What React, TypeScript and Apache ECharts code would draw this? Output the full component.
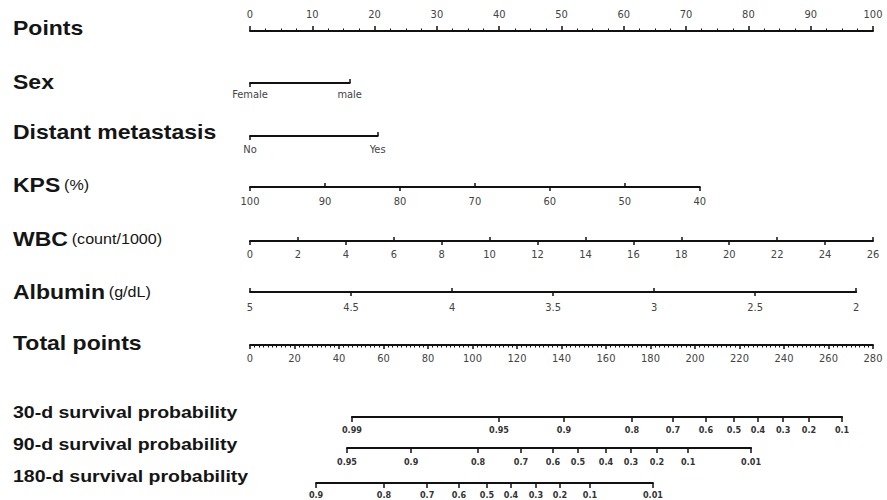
import React, { useEffect, useRef } from "react";
import * as echarts from "echarts";

// ---- Data ----
const pointsMax = 100;
const sexLevels = ["Female", "male"];
const sexPoints = [0, 16];
const metLevels = ["No", "Yes"];
const metPoints = [0, 20.5];
const kpsTicks = [100, 90, 80, 70, 60, 50, 40];
const kpsMaxPoints = 72.2; // points at KPS 40
const wbcTicks = [0, 2, 4, 6, 8, 10, 12, 14, 16, 18, 20, 22, 24, 26];
const wbcMaxPoints = 100; // points at WBC 26
const albuminTicks = [5, 4.5, 4, 3.5, 3, 2.5, 2];
const albuminMaxPoints = 97.3; // points at albumin 2
const totalMax = 280;
const surv30Labels = ["0.99", "0.95", "0.9", "0.8", "0.7", "0.6", "0.5", "0.4", "0.3", "0.2", "0.1"];
const surv30Total = [45.8, 111.9, 141.1, 171.7, 190.1, 204.9, 217.5, 228.3, 239.6, 251.2, 266.1];
const surv90Labels = ["0.95", "0.9", "0.8", "0.7", "0.6", "0.5", "0.4", "0.3", "0.2", "0.1", "0.01"];
const surv90Total = [43.6, 72.4, 102.5, 121.8, 136.2, 147.4, 160.0, 171.2, 182.9, 196.9, 225.2];
const surv180Labels = ["0.9", "0.8", "0.7", "0.6", "0.5", "0.4", "0.3", "0.2", "0.1", "0.01"];
const surv180Total = [29.7, 60.2, 79.6, 93.9, 106.5, 117.3, 128.5, 139.3, 152.8, 181.1];

// ---- Layout ----
const X0 = 250;
const X1 = 873;
const ptsToPx = (p: number) => X0 + (p / pointsMax) * (X1 - X0);
const totToPx = (t: number) => X0 + (t / totalMax) * (X1 - X0);

const LINE = { color: "#111", width: 2 };
const TICK = { color: "#111", width: 1.5 };
const TICK_FONT = "'Liberation Sans Narrow','DejaVu Sans Condensed',sans-serif";
const tickLabelStyle = { fontSize: 11, color: "#444", fontFamily: TICK_FONT };
const survLabelStyle = { fontSize: 9, color: "#333", fontWeight: "bold" as const, fontFamily: TICK_FONT };

type RowCfg = {
  lineY: number;
  left: number;
  right: number;
  min: number;
  max: number;
  inverse?: boolean;
  interval?: number;
  position?: "top" | "bottom";
  down?: number[];
  up?: number[];
  labelValues?: number[];
  formatter?: (v: number) => string;
  minorSplit?: number;
  margin?: number;
  labelStyle?: any;
  tickLen?: number;
};

function buildRows(rows: RowCfg[]) {
  const grid: any[] = [];
  const xAxis: any[] = [];
  const yAxis: any[] = [];
  rows.forEach((r, i) => {
    const pos = r.position || "bottom";
    grid.push({
      left: r.left,
      width: r.right - r.left,
      top: pos === "bottom" ? r.lineY - 10 : r.lineY,
      height: 10,
      outerBoundsMode: "none",
      containLabel: false,
    });
    yAxis.push({ gridIndex: i, type: "value", show: false, min: 0, max: 1 });
    const base: any = {
      type: "value",
      gridIndex: i,
      position: pos,
      min: r.min,
      max: r.max,
      inverse: !!r.inverse,
      splitLine: { show: false },
    };
    if (r.interval !== undefined) base.interval = r.interval;
    const a: any = {
      ...base,
      axisLine: { show: true, onZero: false, lineStyle: LINE },
      axisTick: {
        show: true,
        inside: false,
        length: r.tickLen || 4,
        lineStyle: TICK,
        ...(r.down ? { customValues: r.down } : {}),
      },
      axisLabel: {
        show: true,
        margin: r.margin ?? 7,
        ...(r.labelStyle || tickLabelStyle),
        ...(r.labelValues ? { customValues: r.labelValues } : {}),
        ...(r.formatter ? { formatter: r.formatter } : {}),
        showMinLabel: true,
        showMaxLabel: true,
      },
    };
    if (r.minorSplit) {
      a.minorTick = { show: true, splitNumber: r.minorSplit, length: 2.5, lineStyle: { color: "#111", width: 1 } };
    }
    xAxis.push(a);
    if (r.up && r.up.length) {
      xAxis.push({
        ...base,
        axisLine: { show: false, onZero: false },
        axisLabel: { show: false },
        axisTick: { show: true, inside: true, length: r.tickLen || 4, lineStyle: TICK, customValues: r.up },
      });
    }
  });
  return { grid, xAxis, yAxis };
}

const evens = (arr: number[]) => arr.filter((_, i) => i % 2 === 0);
const odds = (arr: number[]) => arr.filter((_, i) => i % 2 === 1);
const lookup = (vals: number[], labels: string[]) => (v: number) => {
  const k = vals.findIndex((x) => Math.abs(x - v) < 1e-6);
  return k >= 0 ? labels[k] : "";
};

function leftLabel(y: number, bold: string, extra?: string, size = 20, scaleX = 1.15): any {
  return {
    type: "text",
    x: 13,
    y,
    scaleX,
    style: {
      text: extra ? `{b|${bold}} {n|${extra}}` : `{b|${bold}}`,
      rich: {
        b: { fontSize: size, fontWeight: "bold", fontFamily: "'Liberation Sans',Arial,sans-serif", fill: "#151515" },
        n: { fontSize: 14, fontFamily: "'Liberation Sans',Arial,sans-serif", fill: "#151515" },
      },
      verticalAlign: "middle",
      align: "left",
    },
  };
}

export default function App() {
  const ref = useRef<HTMLDivElement>(null);
  useEffect(() => {
    if (!ref.current) return;
    const chart = echarts.init(ref.current, undefined, { renderer: "svg" });
    const rows: RowCfg[] = [
      // Points
      {
        lineY: 31, left: ptsToPx(0), right: ptsToPx(pointsMax), min: 0, max: pointsMax, interval: 10,
        position: "top", minorSplit: 4, margin: 11, tickLen: 5,
      },
      // Sex
      {
        lineY: 83, left: ptsToPx(sexPoints[0]), right: ptsToPx(sexPoints[1]), min: sexPoints[0], max: sexPoints[1],
        down: [sexPoints[0]], up: [sexPoints[1]], labelValues: sexPoints, formatter: lookup(sexPoints, sexLevels),
        margin: 6,
      },
      // Distant metastasis
      {
        lineY: 136, left: ptsToPx(metPoints[0]), right: ptsToPx(metPoints[1]), min: metPoints[0], max: metPoints[1],
        down: [metPoints[0]], up: [metPoints[1]], labelValues: metPoints, formatter: lookup(metPoints, metLevels),
        margin: 8,
      },
      // KPS
      {
        lineY: 187, left: ptsToPx(0), right: ptsToPx(kpsMaxPoints), min: 40, max: 100, inverse: true, interval: 10,
        down: evens(kpsTicks), up: odds(kpsTicks), labelValues: kpsTicks, margin: 9,
      },
      // WBC
      {
        lineY: 241, left: ptsToPx(0), right: ptsToPx(wbcMaxPoints), min: 0, max: 26, interval: 2,
        down: evens(wbcTicks), up: odds(wbcTicks), labelValues: wbcTicks, margin: 8,
      },
      // Albumin
      {
        lineY: 292, left: ptsToPx(0), right: ptsToPx(albuminMaxPoints), min: 2, max: 5, inverse: true, interval: 0.5,
        down: odds(albuminTicks), up: evens(albuminTicks), labelValues: albuminTicks, margin: 10,
      },
      // Total points
      {
        lineY: 345, left: totToPx(0), right: totToPx(totalMax), min: 0, max: totalMax, interval: 20,
        minorSplit: 10, margin: 8, tickLen: 4,
      },
      // 30-d
      {
        lineY: 417, left: totToPx(surv30Total[0]), right: totToPx(surv30Total[surv30Total.length - 1]),
        min: surv30Total[0], max: surv30Total[surv30Total.length - 1],
        down: surv30Total, labelValues: surv30Total, formatter: lookup(surv30Total, surv30Labels),
        labelStyle: survLabelStyle, margin: 8, tickLen: 5,
      },
      // 90-d
      {
        lineY: 448, left: totToPx(surv90Total[0]), right: totToPx(surv90Total[surv90Total.length - 1]),
        min: surv90Total[0], max: surv90Total[surv90Total.length - 1],
        down: surv90Total, labelValues: surv90Total, formatter: lookup(surv90Total, surv90Labels),
        labelStyle: survLabelStyle, margin: 9, tickLen: 5,
      },
      // 180-d
      {
        lineY: 483, left: totToPx(surv180Total[0]), right: totToPx(surv180Total[surv180Total.length - 1]),
        min: surv180Total[0], max: surv180Total[surv180Total.length - 1],
        down: surv180Total, labelValues: surv180Total, formatter: lookup(surv180Total, surv180Labels),
        labelStyle: survLabelStyle, margin: 7, tickLen: 5,
      },
    ];
    const { grid, xAxis, yAxis } = buildRows(rows);
    chart.setOption({
      animation: false,
      backgroundColor: "#fff",
      grid,
      xAxis,
      yAxis,
      series: [],
      graphic: [
        leftLabel(28, "Points"),
        leftLabel(82, "Sex"),
        leftLabel(132, "Distant metastasis"),
        leftLabel(185, "KPS", "(%)"),
        leftLabel(239, "WBC", "(count/1000)"),
        leftLabel(292, "Albumin", "(g/dL)"),
        leftLabel(343, "Total points"),
        leftLabel(413, "30-d survival probability", undefined, 16, 1.22),
        leftLabel(445, "90-d survival probability", undefined, 16, 1.22),
        leftLabel(477, "180-d survival probability", undefined, 16, 1.22),
      ],
    });
    return () => chart.dispose();
  }, []);
  return (
    <div
      ref={ref}
      style={{ position: "fixed", left: 0, top: 0, width: 887, height: 500, background: "#fff" }}
    />
  );
}
